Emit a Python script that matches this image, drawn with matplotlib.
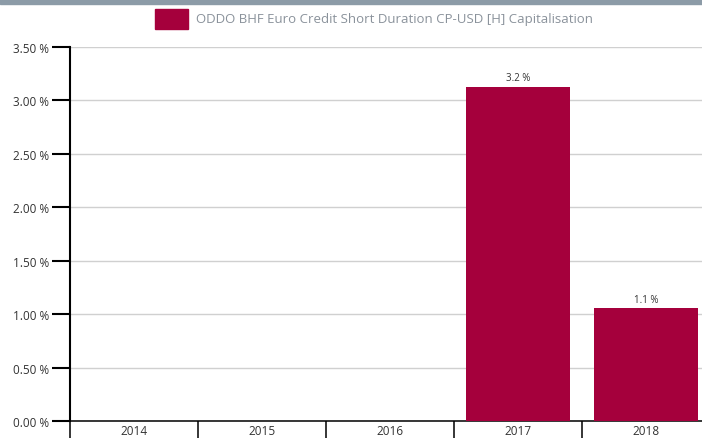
import matplotlib.pyplot as plt
from matplotlib.patches import Rectangle

years = ['2014', '2015', '2016', '2017', '2018']
values = [0, 0, 0, 3.13, 1.06]
labels = ['', '', '', '3.2 %', '1.1 %']
yticks = [0, 0.5, 1.0, 1.5, 2.0, 2.5, 3.0, 3.5]
series_name = 'ODDO BHF Euro Credit Short Duration CP-USD [H] Capitalisation'

bar_color = '#a5003c'
plt.rcParams['font.family'] = ['Open Sans', 'DejaVu Sans']

fig = plt.figure(figsize=(7.02, 4.39), dpi=100)
W, H = 702, 439

# gray band across the top
fig.patches.append(Rectangle((0, 1 - 5 / H), 1, 5 / H, transform=fig.transFigure,
                             color='#8c9ba7', zorder=0))

ax = fig.add_axes([70 / W, 17 / H, 640 / W, 374 / H])
x = list(range(len(years)))
ax.bar(x, values, width=0.81, color=bar_color, zorder=3)
for xi, v, lab in zip(x, values, labels):
    if lab:
        ax.text(xi, v + 0.03, lab, ha='center', va='bottom', fontsize=7, color='#333333')

ax.set_xlim(-0.5, 4.5)
ax.set_ylim(0, 3.5)
ax.set_yticks(yticks)
ax.set_yticklabels(['%.2f %%' % t for t in yticks], fontsize=8.5, color='#333333')
ax.tick_params(axis='y', length=13, width=1.5, color='black', pad=2)
ax.yaxis.grid(True, color='#d0d0d0', linewidth=1, zorder=0)
ax.set_axisbelow(True)

# x ticks at band boundaries, labels at centres
ax.set_xticks([i - 0.5 for i in range(len(years) + 1)])
ax.set_xticklabels([])
ax.set_xticks(x, minor=True)
ax.set_xticklabels(years, minor=True, fontsize=8.5, color='#333333')
ax.tick_params(axis='x', which='major', length=14, width=1.1, color='black', direction='out')
ax.tick_params(axis='x', which='minor', length=0, pad=2)

for s in ['top', 'right']:
    ax.spines[s].set_visible(False)
ax.spines['left'].set_linewidth(1.5)
ax.spines['bottom'].set_linewidth(1.1)

# legend
fig.patches.append(Rectangle((155 / W, 1 - 30 / H), 33 / W, 20 / H, transform=fig.transFigure,
                             color=bar_color, zorder=2))
fig.text(196 / W, 1 - 19 / H, series_name, fontsize=9.5, color='#8a929b', va='center', ha='left')

fig.savefig('out.png', dpi=100)
